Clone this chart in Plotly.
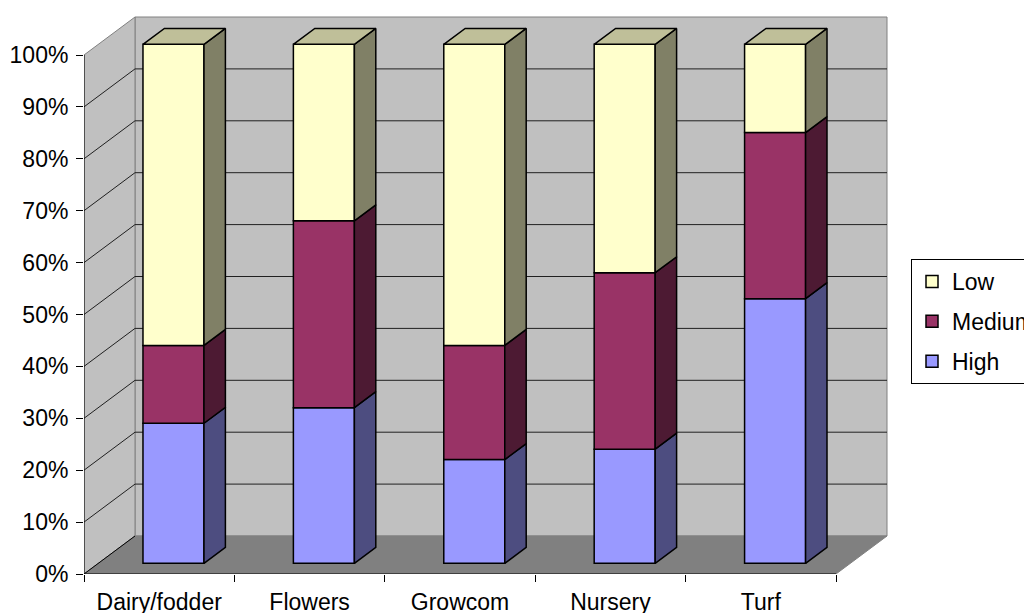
import plotly.graph_objects as go

# ---------------- data ----------------
categories = ["Dairy/fodder", "Flowers", "Growcom", "Nursery", "Turf"]
high = [27, 30, 20, 22, 51]
medium = [15, 36, 22, 34, 32]
low = [58, 34, 58, 44, 17]
y_tick_values = [0, 10, 20, 30, 40, 50, 60, 70, 80, 90, 100]
y_tick_labels = [f"{v}%" for v in y_tick_values]

# ---------------- layout geometry ----------------
W, H = 1024, 613
PX_PER_CAT = 150.4
PX_PER_PCT = 5.19
ML, MT = 84, 14
PLOT_RIGHT = 890
PLOT_BOTTOM = 574
DX = 51 / PX_PER_CAT          # full depth, x (categories)
DY = 38 / PX_PER_PCT          # full depth, y (percent)
F0, F1 = 0.28, 0.70           # depth fraction of bar front / back
BAR_W = 61 / PX_PER_CAT
FONT = "Arial, Liberation Sans, sans-serif"
FS = 23

n = len(categories)
x_lo, x_hi = -0.5, n - 0.5
x_range = [x_lo, x_lo + (PLOT_RIGHT - ML) / PX_PER_CAT]
y_range = [0, (PLOT_BOTTOM - MT) / PX_PER_PCT]

# name, values, front, side, top, legend rank
series = [
    ("High", high, "#9999FF", "#4D4D80", "#7373BF", 3),
    ("Medium", medium, "#993366", "#4D1A33", "#73264D", 2),
    ("Low", low, "#FFFFCC", "#808066", "#BFBF99", 1),
]

fig = go.Figure()

# ---------------- walls, floor, gridlines (shapes below traces) ----------------
shapes = []
def path(points):
    return "M " + " L ".join(f"{x},{y}" for x, y in points) + " Z"
def openpath(points):
    return "M " + " L ".join(f"{x},{y}" for x, y in points)

top = y_tick_values[-1]
# back wall
shapes.append(dict(type="path", layer="below", xref="x", yref="y",
                   path=path([(x_lo + DX, DY), (x_hi + DX, DY), (x_hi + DX, top + DY), (x_lo + DX, top + DY)]),
                   fillcolor="#C0C0C0", line=dict(color="#808080", width=1)))
# left wall
shapes.append(dict(type="path", layer="below", xref="x", yref="y",
                   path=path([(x_lo, 0), (x_lo, top), (x_lo + DX, top + DY), (x_lo + DX, DY)]),
                   fillcolor="#C0C0C0", line=dict(color="#808080", width=1)))
# gridlines
for v in y_tick_values[1:-1]:
    shapes.append(dict(type="path", layer="below", xref="x", yref="y",
                       path=openpath([(x_lo, v), (x_lo + DX, v + DY), (x_hi + DX, v + DY)]),
                       line=dict(color="#202020", width=1)))
# floor
shapes.append(dict(type="path", layer="below", xref="x", yref="y",
                   path=path([(x_lo, 0), (x_hi, 0), (x_hi + DX, DY), (x_lo + DX, DY)]),
                   fillcolor="#808080", line=dict(color="#808080", width=1)))
shapes.append(dict(type="path", layer="below", xref="x", yref="y",
                   path=openpath([(x_lo + DX, DY), (x_lo, 0)]),
                   line=dict(color="#000000", width=1)))
# front axis lines
shapes.append(dict(type="path", layer="below", xref="x", yref="y",
                   path=openpath([(x_lo, top), (x_lo, 0), (x_hi, 0)]),
                   line=dict(color="#000000", width=1)))

# ---------------- bars ----------------
cum = [0.0] * n
for name, vals, c_front, c_side, c_top, rank in series:
    xs = [i + F0 * DX for i in range(n)]
    bases = [F0 * DY + cum[i] for i in range(n)]
    fig.add_trace(go.Bar(
        x=xs, y=vals, base=bases, width=BAR_W, name=name, legendgroup=name,
        legendrank=rank,
        marker=dict(color=c_front, line=dict(color="#000000", width=1.5)),
        hoverinfo="skip",
    ))
    # side faces
    sx, sy = [], []
    ddx, ddy = (F1 - F0) * DX, (F1 - F0) * DY
    for i in range(n):
        xr = xs[i] + BAR_W / 2
        yb = bases[i]
        yt = bases[i] + vals[i]
        sx += [xr, xr + ddx, xr + ddx, xr, xr, None]
        sy += [yb, yb + ddy, yt + ddy, yt, yb, None]
    fig.add_trace(go.Scatter(x=sx, y=sy, mode="lines", fill="toself", fillcolor=c_side,
                             line=dict(color="#000000", width=1.5), showlegend=False,
                             hoverinfo="skip"))
    cum = [cum[i] + vals[i] for i in range(n)]
    if name == series[-1][0]:
        tx, ty = [], []
        for i in range(n):
            xr = xs[i] + BAR_W / 2
            xl = xs[i] - BAR_W / 2
            yt = bases[i] + vals[i]
            tx += [xl, xl + ddx, xr + ddx, xr, xl, None]
            ty += [yt, yt + ddy, yt + ddy, yt, yt, None]
        fig.add_trace(go.Scatter(x=tx, y=ty, mode="lines", fill="toself", fillcolor=c_top,
                                 line=dict(color="#000000", width=1.5), showlegend=False,
                                 hoverinfo="skip"))

fig.update_layout(
    width=W, height=H,
    margin=dict(l=ML, r=W - PLOT_RIGHT, t=MT, b=H - PLOT_BOTTOM, autoexpand=False),
    paper_bgcolor="white", plot_bgcolor="white",
    barmode="overlay",
    shapes=shapes,
    font=dict(family=FONT, size=FS, color="#000000"),
    showlegend=True,
    legend=dict(
        x=(911 - ML) / (PLOT_RIGHT - ML), y=(PLOT_BOTTOM - 259) / (PLOT_BOTTOM - MT),
        xanchor="left", yanchor="top",
        traceorder="grouped", tracegroupgap=7,
        bordercolor="#000000", borderwidth=1, bgcolor="white",
        font=dict(family=FONT, size=FS, color="#000000"),
        itemwidth=30,
    ),
    xaxis=dict(
        range=x_range, showgrid=False, zeroline=False, showline=False,
        tickmode="array", tickvals=list(range(n)), ticktext=categories,
        ticks="", ticklabelstandoff=12,
        minor=dict(tickmode="array", tickvals=[x_lo + k for k in range(n + 1)],
                   ticks="outside", ticklen=7, tickcolor="#000000", showgrid=False),
        fixedrange=True,
    ),
    yaxis=dict(
        range=y_range, showgrid=False, zeroline=False, showline=False,
        tickmode="array", tickvals=y_tick_values, ticktext=y_tick_labels,
        ticks="outside", ticklen=7, tickcolor="#000000", ticklabelstandoff=3,
        fixedrange=True,
    ),
)

fig.write_html("out.html")
